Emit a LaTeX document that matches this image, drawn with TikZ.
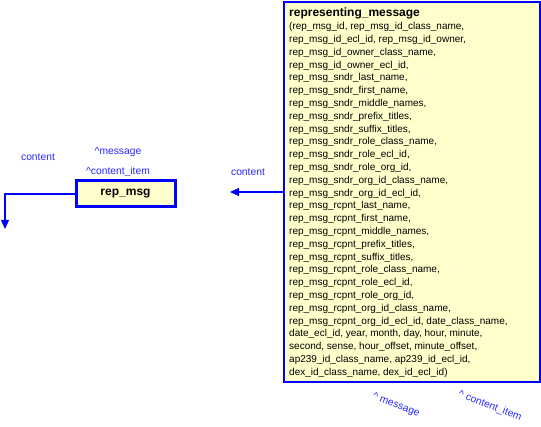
\documentclass[tikz,border=0pt]{standalone}
\usepackage{fontspec}
\setmainfont{Liberation Sans}
\usetikzlibrary{arrows.meta}
\definecolor{boxfill}{RGB}{255,255,204}
\definecolor{lineblue}{RGB}{0,0,255}
\definecolor{txtblue}{RGB}{40,40,255}
\tikzset{
  entity/.style={draw=lineblue, fill=boxfill, line width=3pt, minimum width=99pt, minimum height=26pt, inner sep=0pt, font=\fontsize{12}{14}\selectfont\bfseries},
  bigbox/.style={draw=lineblue, fill=boxfill, line width=1.6pt},
  lbl/.style={text=txtblue, font=\fontsize{10.3}{12}\selectfont, inner sep=0pt},
  conn/.style={draw=lineblue, line width=1.3pt},
  tip/.style={-{Triangle[length=9pt,width=8pt]}}
}
\begin{document}
\begin{tikzpicture}[x=1pt,y=-1pt]
\useasboundingbox (0,0) rectangle (541,427);
% big entity
\draw[bigbox] (284,2) rectangle (540,382);
\coordinate (bigL) at (284,192);
\node[anchor=north west, inner sep=0pt, align=left, font=\fontsize{10}{12.8}\selectfont] (big) at (289,8) {%
\textbf{\fontsize{12}{12.8}\selectfont representing\_message}\\
(rep\_msg\_id, rep\_msg\_id\_class\_name,\\
rep\_msg\_id\_ecl\_id, rep\_msg\_id\_owner,\\
rep\_msg\_id\_owner\_class\_name,\\
rep\_msg\_id\_owner\_ecl\_id,\\
rep\_msg\_sndr\_last\_name,\\
rep\_msg\_sndr\_first\_name,\\
rep\_msg\_sndr\_middle\_names,\\
rep\_msg\_sndr\_prefix\_titles,\\
rep\_msg\_sndr\_suffix\_titles,\\
rep\_msg\_sndr\_role\_class\_name,\\
rep\_msg\_sndr\_role\_ecl\_id,\\
rep\_msg\_sndr\_role\_org\_id,\\
rep\_msg\_sndr\_org\_id\_class\_name,\\
rep\_msg\_sndr\_org\_id\_ecl\_id,\\
rep\_msg\_rcpnt\_last\_name,\\
rep\_msg\_rcpnt\_first\_name,\\
rep\_msg\_rcpnt\_middle\_names,\\
rep\_msg\_rcpnt\_prefix\_titles,\\
rep\_msg\_rcpnt\_suffix\_titles,\\
rep\_msg\_rcpnt\_role\_class\_name,\\
rep\_msg\_rcpnt\_role\_ecl\_id,\\
rep\_msg\_rcpnt\_role\_org\_id,\\
rep\_msg\_rcpnt\_org\_id\_class\_name,\\
rep\_msg\_rcpnt\_org\_id\_ecl\_id, date\_class\_name,\\
date\_ecl\_id, year, month, day, hour, minute,\\
second, sense, hour\_offset, minute\_offset,\\
ap239\_id\_class\_name, ap239\_id\_ecl\_id,\\
dex\_id\_class\_name, dex\_id\_ecl\_id)};
% rep_msg
\node[entity] (rep) at (125.5,194) {rep\_msg};
\coordinate (downend) at (5,229);
\coordinate (inend) at (230,192);
\draw[conn, tip] (rep.west) -| (downend);
\draw[conn, tip] (bigL) -- (inend);
% labels
\node[lbl] (l1) at (118,152) {\textasciicircum message};
\node[lbl] (l2) at (118,172) {\textasciicircum content\_item};
\node[lbl] (l3) at (38,157) {content};
\node[lbl] (l4) at (248,172) {content};
\node[lbl, rotate=-21] (l5) at (396,405) {\textasciicircum\ message};
\node[lbl, rotate=-21] (l6) at (490,406) {\textasciicircum\ content\_item};
\end{tikzpicture}
\end{document}
